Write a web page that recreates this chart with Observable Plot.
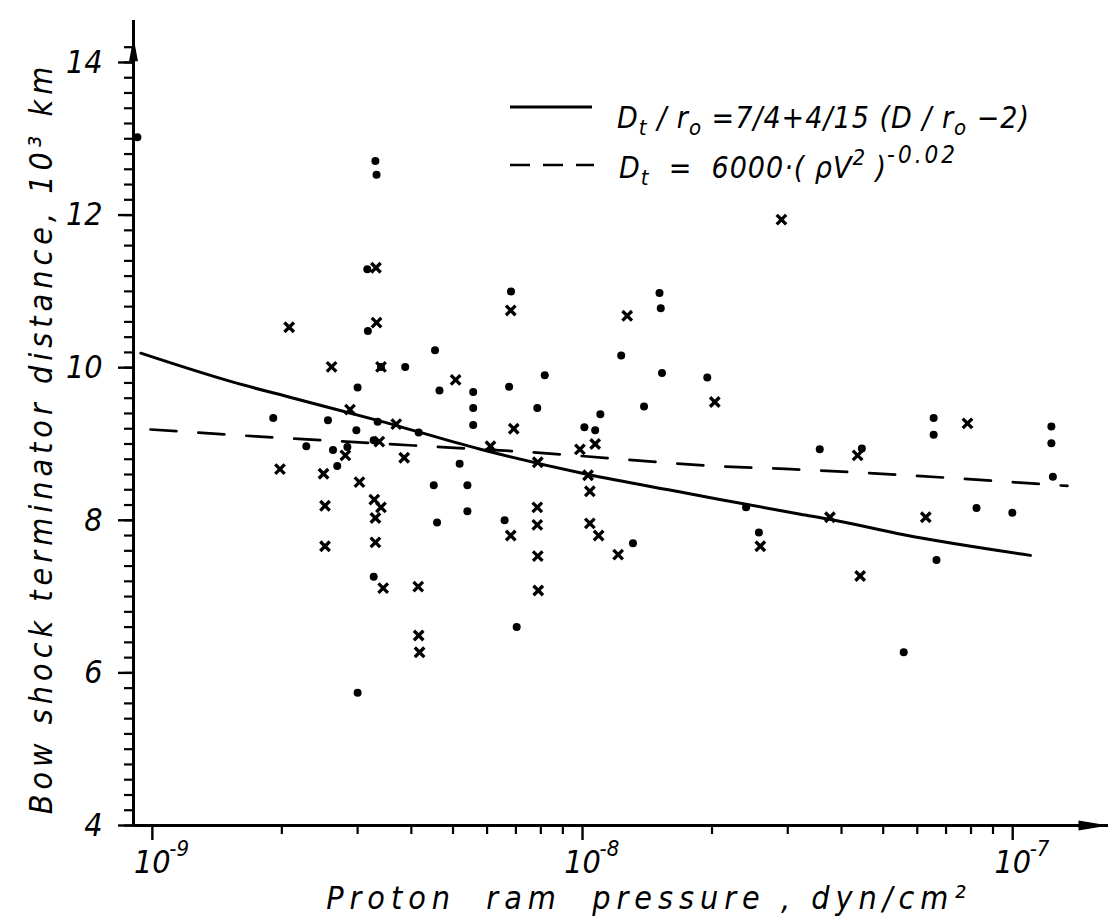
<!DOCTYPE html>
<html>
<head>
<meta charset="utf-8">
<script src="https://cdn.jsdelivr.net/npm/d3@7"></script>
<script src="https://cdn.jsdelivr.net/npm/@observablehq/plot@0.6"></script>
<style>
  body { margin: 0; background: #fff; }
  #wrap { position: relative; width: 1112px; height: 921px; }
  #wrap svg text { font-stretch: condensed; }
  #legend { position: absolute; left: 0; top: 0; pointer-events: none; }
  .lt { font-family: "DejaVu Sans", sans-serif; font-stretch: condensed; font-style: italic; font-size: 30px; white-space: pre; letter-spacing: 1px; }
</style>
</head>
<body>
<div id="wrap"></div>
<script>
// Proton ram pressure in units of 1e-9 dyn/cm^2; distance in 10^3 km
const dotP = [0.923, 3.30, 3.32, 3.16, 3.17, 3.40, 3.87, 3.00, 4.54, 4.65,
              5.57, 6.75, 5.57, 5.57, 1.91, 2.56, 3.34, 4.16, 2.98, 3.27,
              2.28, 2.63, 2.84, 2.69, 5.18, 4.51, 5.40, 5.40, 4.59, 6.59,
              3.27, 7.03, 3.00, 6.82, 15.1, 15.2, 12.3, 8.17, 15.3, 19.5,
              7.85, 13.9, 11.0, 10.1, 10.7, 13.1, 24.0, 25.7, 35.6, 44.6,
              65.5, 65.5, 123, 123, 124, 82.4, 99.8, 66.5, 55.8];
const dotD = [13.02, 12.71, 12.53, 11.29, 10.48, 10.01, 10.01, 9.74, 10.23, 9.70,
              9.68, 9.75, 9.47, 9.25, 9.34, 9.31, 9.29, 9.15, 9.18, 9.05,
              8.97, 8.92, 8.96, 8.71, 8.74, 8.46, 8.46, 8.12, 7.97, 8.00,
              7.26, 6.60, 5.74, 11.00, 10.98, 10.78, 10.16, 9.90, 9.93, 9.87,
              9.47, 9.49, 9.39, 9.22, 9.18, 7.70, 8.17, 7.84, 8.93, 8.94,
              9.34, 9.12, 9.23, 9.01, 8.57, 8.16, 8.10, 7.48, 6.27];

const crossP = [3.31, 2.08, 3.32, 2.61, 3.40, 5.07, 6.92, 2.88, 3.69, 3.37,
                2.81, 6.11, 3.85, 1.98, 2.50, 3.03, 2.52, 3.28, 3.40, 3.30,
                6.81, 2.52, 3.30, 3.44, 4.15, 4.16, 4.18, 6.81, 12.7, 20.3,
                10.7, 9.86, 7.87, 10.3, 10.4, 7.85, 7.85, 10.4, 10.9, 12.1,
                7.87, 7.89, 25.9, 29.0, 43.6, 78.5, 37.6, 62.8, 44.2];
const crossD = [11.31, 10.53, 10.59, 10.01, 10.01, 9.84, 9.20, 9.45, 9.26, 9.03,
                8.85, 8.97, 8.82, 8.67, 8.61, 8.50, 8.19, 8.27, 8.17, 8.03,
                7.80, 7.66, 7.71, 7.11, 7.13, 6.49, 6.27, 10.75, 10.68, 9.55,
                9.00, 8.93, 8.76, 8.59, 8.38, 8.17, 7.94, 7.96, 7.80, 7.55,
                7.53, 7.08, 7.66, 11.94, 8.85, 9.27, 8.04, 8.04, 7.27];

// model curves
const solidP = [0.94, 1.52, 2.13, 3.39, 5.79, 10.3, 16.9, 21.0, 32.1, 37.8, 55.8, 110];
const solidD = [10.19, 9.82, 9.60, 9.30, 8.93, 8.60, 8.37, 8.27, 8.08, 8.01, 7.81, 7.54];
const dashP = [0.99, 1.74, 4.05, 7.18, 22.3, 30.5, 134];
const dashD = [9.19, 9.10, 8.98, 8.90, 8.70, 8.67, 8.45];

// axes
const unit = 1e-9;
const xDomain = [0.904e-9, 1.67e-7];
const yDomain = [4, 14.55];
const yArrowTip = 14.33;
const yMajor = [4, 6, 8, 10, 12, 14];
const yMinor = d3.range(40, 144, 2).map(d => d / 10);
const xMajorExp = [-9, -8, -7];
const xMinor = [1e-9, 1e-8, 1e-7].flatMap(b => [2,3,4,5,6,7,8,9].map(m => m * b)).filter(v => v < xDomain[1]);

const FONT = '"DejaVu Sans", sans-serif';

const dots = dotP.map((p, i) => ({p: p * unit, d: dotD[i]}));
const crosses = crossP.map((p, i) => ({p: p * unit, d: crossD[i]}));
const solid = solidP.map((p, i) => ({p: p * unit, d: solidD[i]}));
const dashed = dashP.map((p, i) => ({p: p * unit, d: dashD[i]}));

const arrowUp = {draw(ctx) { ctx.moveTo(0, 0); ctx.lineTo(-4.5, 24); ctx.lineTo(4.5, 24); ctx.closePath(); }};
const arrowRight = {draw(ctx) { ctx.moveTo(0, 0); ctx.lineTo(-30, -5); ctx.lineTo(-30, 5); ctx.closePath(); }};

const chart = Plot.plot({
  width: 1112,
  height: 921,
  marginLeft: 133,
  marginRight: 4,
  marginTop: 20,
  marginBottom: 96,
  style: {fontFamily: FONT, background: "#fff", color: "#000"},
  x: {type: "log", domain: xDomain},
  y: {domain: yDomain},
  marks: [
    // axis lines
    Plot.ruleX([xDomain[0]], {stroke: "#000", strokeWidth: 3}),
    Plot.ruleY([yDomain[0]], {stroke: "#000", strokeWidth: 3}),
    Plot.dot([{x: xDomain[0], y: yArrowTip}], {x: "x", y: "y", symbol: arrowUp, fill: "#000", stroke: null}),
    Plot.dot([{x: xDomain[1], y: yDomain[0]}], {x: "x", y: "y", symbol: arrowRight, fill: "#000", stroke: null}),
    // y ticks
    Plot.axisY(yMinor, {tickSize: 9, tickFormat: () => "", strokeWidth: 2.2, label: null}),
    Plot.axisY(yMajor, {tickSize: 15, tickFormat: () => "", strokeWidth: 2.4, label: null}),
    // x ticks
    Plot.axisX(xMinor, {tickSize: 9, tickFormat: () => "", strokeWidth: 2.2, label: null}),
    Plot.axisX(xMajorExp.map(e => 10 ** e), {tickSize: 15, tickFormat: () => "", strokeWidth: 2.4, label: null}),
    // y tick labels
    Plot.text(yMajor, {x: () => xDomain[0], y: d => d, text: d => String(d), textAnchor: "end", dx: -31,
      fontSize: 32, fontStyle: "italic", fontFamily: FONT}),
    // x tick labels: 10 with exponent
    Plot.text(xMajorExp, {x: e => 10 ** e, y: () => yDomain[0], text: () => "10", textAnchor: "middle", dy: 37,
      fontSize: 32, fontStyle: "italic", fontFamily: FONT}),
    Plot.text(xMajorExp, {x: e => 10 ** e, y: () => yDomain[0], text: e => "-" + Math.abs(e), textAnchor: "start", dx: 17, dy: 23,
      fontSize: 22, fontStyle: "italic", fontFamily: FONT}),
    // axis titles
    Plot.text(["Proton  ram  pressure , dyn/cm²"], {frameAnchor: "bottom", textAnchor: "middle", lineAnchor: "middle",
      dx: 28, dy: 73, fontSize: 32, fontStyle: "italic", fontFamily: FONT}),
    Plot.text(["Bow shock terminator distance, 10³ km"], {frameAnchor: "left", textAnchor: "middle", lineAnchor: "middle",
      rotate: -90, dx: -92, dy: 15, fontSize: 32, fontStyle: "italic", fontFamily: FONT}),
    // model lines
    Plot.line(solid, {x: "p", y: "d", stroke: "#000", strokeWidth: 3, curve: "monotone-x"}),
    Plot.line(dashed, {x: "p", y: "d", stroke: "#000", strokeWidth: 2.7, strokeDasharray: "26,22", curve: "monotone-x"}),
    // observations
    Plot.dot(dots, {x: "p", y: "d", r: 4, fill: "#000", stroke: null}),
    Plot.dot(crosses, {x: "p", y: "d", symbol: "times", r: 4.4, stroke: "#000", strokeWidth: 3.3})
  ]
});

const spacing = {"Proton": "6px", "Bow sh": "5px"};
d3.select(chart).selectAll("text").each(function() {
  const key = this.textContent.slice(0, 6);
  if (spacing[key]) d3.select(this).style("letter-spacing", spacing[key]);
});

const wrap = document.getElementById("wrap");
wrap.appendChild(chart);

// legend overlay
const ns = "http://www.w3.org/2000/svg";
const leg = document.createElementNS(ns, "svg");
leg.setAttribute("id", "legend");
leg.setAttribute("width", 1112);
leg.setAttribute("height", 921);
leg.innerHTML = `
  <line x1="510" y1="107" x2="592" y2="107" stroke="#000" stroke-width="3"/>
  <line x1="510" y1="165" x2="594" y2="165" stroke="#000" stroke-width="2.6" stroke-dasharray="20,13"/>
  <text class="lt" x="617" y="128">D<tspan dy="7" font-size="22">t</tspan><tspan dy="-7"> / r</tspan><tspan dy="7" font-size="22">o</tspan><tspan dy="-7"> =7/4+4/15 (D / r</tspan><tspan dy="7" font-size="22">o</tspan><tspan dy="-7"> −2)</tspan></text>
  <text class="lt" x="619" y="178">D<tspan dy="7" font-size="22">t</tspan><tspan dy="-7">  =  6000·( ρV</tspan><tspan dy="-13" font-size="22">2</tspan><tspan dy="13"> )</tspan><tspan dy="-15" font-size="24" letter-spacing="3">-0.02</tspan></text>
`;
wrap.appendChild(leg);
</script>
</body>
</html>
